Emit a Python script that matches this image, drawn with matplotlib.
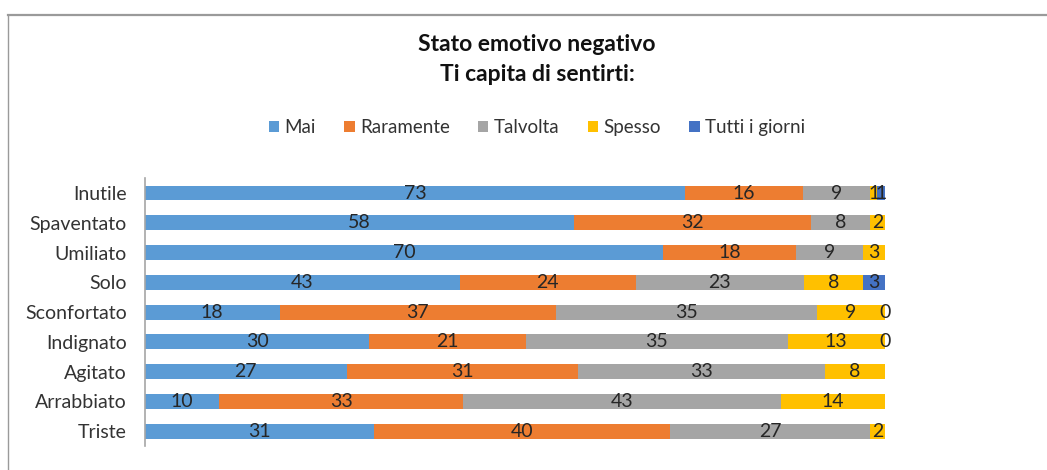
import numpy as np
import matplotlib
matplotlib.use("Agg")
import matplotlib.pyplot as plt
from matplotlib.lines import Line2D

plt.rcParams['font.family'] = ['Lato', 'DejaVu Sans']

categories = ['Inutile', 'Spaventato', 'Umiliato', 'Solo', 'Sconfortato',
              'Indignato', 'Agitato', 'Arrabbiato', 'Triste']
mai = [73, 58, 70, 43, 18, 30, 27, 10, 31]
raramente = [16, 32, 18, 24, 37, 21, 31, 33, 40]
talvolta = [9, 8, 9, 23, 35, 35, 33, 43, 27]
spesso = [1, 2, 3, 8, 9, 13, 8, 14, 2]
tutti = [1, np.nan, np.nan, 3, 0, 0, np.nan, np.nan, np.nan]

series_names = ['Mai', 'Raramente', 'Talvolta', 'Spesso', 'Tutti i giorni']
colors = ['#5B9BD5', '#ED7D31', '#A5A5A5', '#FFC000', '#4472C4']

data = np.array([mai, raramente, talvolta, spesso, tutti], dtype=float)
vals = np.nan_to_num(data)
totals = vals.sum(axis=0)
pct = vals / totals * 100

fig = plt.figure(figsize=(10.47, 4.70), dpi=100)
ax = fig.add_axes([0.1385, 0.051, 0.7065, 0.570])

y = np.arange(len(categories))
left = np.zeros(len(categories))
handles = []
for i, name in enumerate(series_names):
    bars = ax.barh(y, pct[i], left=left, height=0.5, color=colors[i],
                   linewidth=0, label=name)
    handles.append(bars)
    for j in range(len(categories)):
        if np.isnan(data[i, j]):
            continue
        ax.text(left[j] + pct[i, j] / 2, y[j], f"{int(data[i, j])}",
                ha='center', va='center', fontsize=14, color='#262626')
    left += pct[i]

ax.set_xlim(0, 100)
ax.set_ylim(len(categories) - 0.5, -0.5)
ax.set_yticks(y)
ax.set_yticklabels(categories, fontsize=14, color='#333333')
ax.tick_params(axis='y', length=0, pad=13)
ax.set_xticks([])
for s in ['top', 'right', 'bottom']:
    ax.spines[s].set_visible(False)
ax.spines['left'].set_color('#a6a6a6')
ax.spines['left'].set_linewidth(1.2)

fig.text(0.513, 0.905, 'Stato emotivo negativo', ha='center', va='center',
         fontsize=16.5, fontweight='bold', color='#111111')
fig.text(0.513, 0.842, 'Ti capita di sentirti:', ha='center', va='center',
         fontsize=16.5, fontweight='bold', color='#111111')

fig.legend(handles=handles, labels=series_names, loc='center',
           bbox_to_anchor=(0.513, 0.728), ncol=5, frameon=False,
           fontsize=13.5, handlelength=0.55, handleheight=0.55,
           handletextpad=0.3, columnspacing=1.5, labelcolor='#333333')

# outer frame of the chart area
fig.add_artist(Line2D([0.0075, 1.0], [0.968, 0.968], transform=fig.transFigure,
                      color='#9a9a9a', lw=1.6))
fig.add_artist(Line2D([0.0075, 0.0075], [0.0, 0.968], transform=fig.transFigure,
                      color='#9a9a9a', lw=1.0))

fig.savefig('out.png', dpi=100)
